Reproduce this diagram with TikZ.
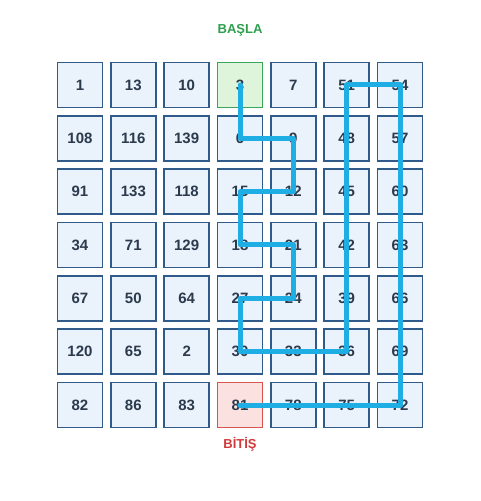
\documentclass[tikz,border=0pt]{standalone}
\usepackage{fontspec}
\setmainfont{Liberation Sans}
\usetikzlibrary{positioning}
\definecolor{cellfill}{HTML}{EAF2FB}
\definecolor{cellline}{HTML}{2F5A8A}
\definecolor{numtext}{HTML}{2B3A4C}
\definecolor{startfill}{HTML}{DFF5DB}
\definecolor{startline}{HTML}{3BA55C}
\definecolor{endfill}{HTML}{FCE1E1}
\definecolor{endline}{HTML}{D9534F}
\definecolor{pathblue}{HTML}{1EAEE4}
\definecolor{startword}{HTML}{2E9E4F}
\definecolor{endword}{HTML}{D03A3A}
\tikzset{
  cell/.style={draw=cellline, fill=cellfill, line width=0.75pt, minimum size=22.5pt,
    inner sep=0pt, text=numtext, font=\bfseries\fontsize{7.5}{9}\selectfont},
  cell03/.style={draw=startline, fill=startfill},
  cell63/.style={draw=endline, fill=endfill},
  route/.style={draw=pathblue, line width=2.5pt, line cap=round, line join=round},
  tag/.style={inner sep=0pt, font=\bfseries\fontsize{6.5}{8}\selectfont}
}

\begin{document}
\begin{tikzpicture}[x=0.5pt,y=-0.5pt]
% Number grid with the path of multiples of 3
	\newcommand\pitch{53.333} %distance between cell centres
	\useasboundingbox (0,0) rectangle (480,501);
	%Grid of cells, one row per list
	\foreach \row [count=\r from 0] in {{1,13,10,3,7,51,54},{108,116,139,6,9,48,57},{91,133,118,15,12,45,60},{34,71,129,18,21,42,63},{67,50,64,27,24,39,66},{120,65,2,30,33,36,69},{82,86,83,81,78,75,72}}{
		\foreach \val [count=\c from 0] in \row {
			\node [cell, cell\r\c/.try] (n\r\c) at ({80+\pitch*\c},{85+\pitch*\r}) {\val}; % n<row><column>
		}
	}
	%Start and end words
	\node [tag, text=startword, above=12.5pt of n03] (start) {BAŞLA};
	\node [tag, text=endword, below=4.5pt of n63] (finish) {BİTİŞ};
	%Route 3, 6, 9, ... 81
	\draw [route] (n03.center) -- (n13.center) -- (n14.center) -- (n24.center) -- (n23.center)
		-- (n33.center) -- (n34.center) -- (n44.center) -- (n43.center) -- (n53.center)
		-- (n54.center) -- (n55.center) -- (n05.center) -- (n06.center) -- (n66.center)
		-- (n63.center);
\end{tikzpicture}
\end{document}
